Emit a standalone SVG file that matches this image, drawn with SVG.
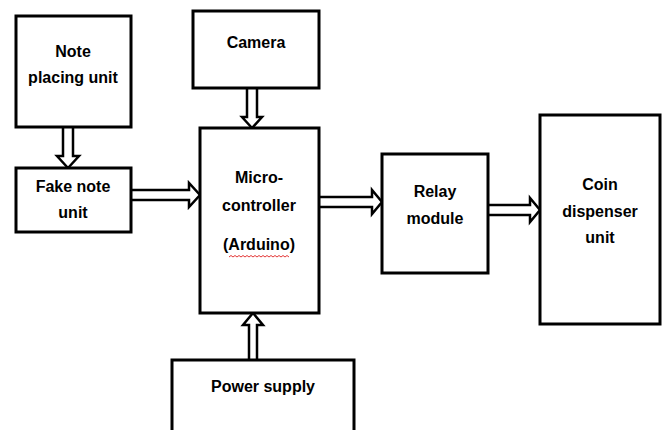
<svg xmlns="http://www.w3.org/2000/svg" width="664" height="430" viewBox="0 0 664 430">
<style>
.box{fill:#fff;stroke:#000;stroke-width:3}
.arr{fill:#fff;stroke:#000;stroke-width:2.5;stroke-linejoin:miter}
text{font-family:"Liberation Sans",Arial,sans-serif;font-weight:bold;font-size:16px;fill:#000;text-anchor:middle}
</style>
<rect width="664" height="430" fill="#fff"/>
<g id="connectors">
<path class="arr" d="M63 128 V156 H57 L68 168 L79 156 H73 V128"/>
<path class="arr" d="M247 89 V117 H242 L252 128 L262 117 H257 V89"/>
<path class="arr" d="M131 190 H189 V183 L200 195 L189 207 V200 H131"/>
<path class="arr" d="M319 197 H372 V190 L382 202 L372 214 V207 H319"/>
<path class="arr" d="M488 205 H530 V198 L540 210 L530 222 V215 H488"/>
<path class="arr" d="M249 360 V325 H243 L253 313 L263 325 H257 V360"/>
</g>
<g id="note-placing">
<rect class="box" x="16" y="16" width="115" height="111"/>
<text x="73" y="57">Note</text>
<text x="73" y="83">placing unit</text>
</g>
<g id="camera">
<rect class="box" x="193" y="11" width="126" height="77"/>
<text x="256" y="48">Camera</text>
</g>
<g id="fake-note">
<rect class="box" x="16" y="168" width="115" height="64"/>
<text x="73" y="192">Fake note</text>
<text x="73" y="218">unit</text>
</g>
<g id="microcontroller">
<rect class="box" x="200" y="128" width="119" height="185"/>
<text x="259" y="183">Micro-</text>
<text x="259" y="211">controller</text>
<text x="259" y="250">(Arduino)</text>
<path d="M229 257 l2 -1.5 l2 1.5 l2 -1.5 l2 1.5 l2 -1.5 l2 1.5 l2 -1.5 l2 1.5 l2 -1.5 l2 1.5 l2 -1.5 l2 1.5 l2 -1.5 l2 1.5 l2 -1.5 l2 1.5 l2 -1.5 l2 1.5 l2 -1.5 l2 1.5 l2 -1.5 l2 1.5 l2 -1.5 l2 1.5 l2 -1.5 l2 1.5 l2 -1.5 l2 1.5 l2 -1.5 l2 1.5" fill="none" stroke="#e02020" stroke-width="0.9"/>
</g>
<g id="relay">
<rect class="box" x="382" y="154" width="106" height="119"/>
<text x="435" y="197">Relay</text>
<text x="435" y="224">module</text>
</g>
<g id="coin-dispenser">
<rect class="box" x="540" y="115" width="120" height="209"/>
<text x="600" y="190">Coin</text>
<text x="600" y="217">dispenser</text>
<text x="600" y="243">unit</text>
</g>
<g id="power-supply">
<path class="box" d="M172 432 V360 H354 V432"/>
<text x="263" y="392">Power supply</text>
</g>
</svg>
